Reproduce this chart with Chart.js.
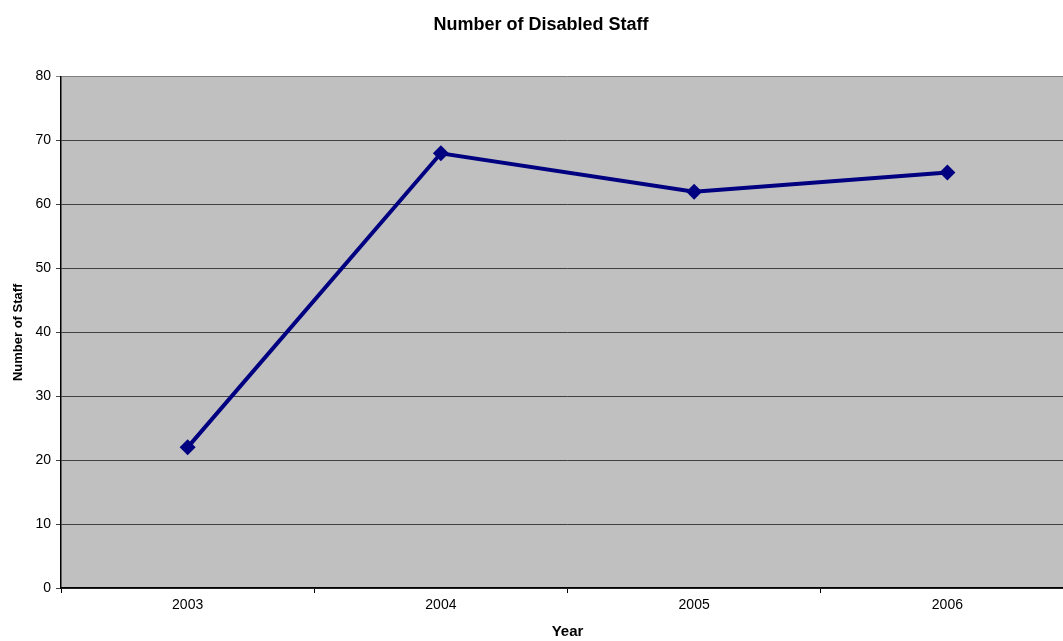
<!DOCTYPE html>
<html>
<head>
<meta charset="utf-8">
<script src="https://cdn.jsdelivr.net/npm/chart.js@4/dist/chart.umd.min.js"></script>
<style>
  html, body { margin: 0; padding: 0; overflow: hidden; background: #fff; }
  canvas { display: block; }
</style>
</head>
<body>
<canvas id="c" width="1082" height="641" style="width:1082px;height:641px"></canvas>
<script>
const years = ['2003', '2004', '2005', '2006'];
const staffCounts = [22, 68, 62, 65];
const yTicks = { min: 0, max: 80, step: 10 };
const chartTitle = 'Number of Disabled Staff';
const xTitle = 'Year';
const yTitle = 'Number of Staff';

const FONT = "'Liberation Sans', Arial, sans-serif";

const plotBg = {
  id: 'plotBg',
  beforeDraw(chart) {
    const { ctx, chartArea: a } = chart;
    ctx.save();
    ctx.fillStyle = '#ffffff';
    ctx.fillRect(0, 0, chart.width, chart.height);
    ctx.fillStyle = '#C0C0C0';
    ctx.fillRect(a.left, a.top, a.right - a.left, a.bottom - a.top);
    ctx.restore();
  }
};

new Chart(document.getElementById('c'), {
  type: 'line',
  data: {
    labels: years,
    datasets: [{
      data: staffCounts,
      borderColor: '#000080',
      backgroundColor: '#000080',
      borderWidth: 4,
      pointStyle: 'rectRot',
      pointRadius: 8,
      pointHoverRadius: 8,
      pointBorderWidth: 0,
      tension: 0,
      clip: false
    }]
  },
  options: {
    responsive: false,
    maintainAspectRatio: false,
    devicePixelRatio: 1,
    animation: false,
    events: [],
    layout: { padding: 0 },
    plugins: {
      legend: { display: false },
      tooltip: { enabled: false },
      title: {
        display: true,
        text: chartTitle,
        color: '#000',
        font: { family: FONT, size: 18, weight: 'bold' },
        padding: { top: 14, bottom: 41 }
      }
    },
    scales: {
      x: {
        type: 'category',
        offset: true,
        afterFit(s) { s.height = 53; },
        border: { display: true, color: '#000', width: 1.5 },
        grid: { display: true, offset: true, drawOnChartArea: false, drawTicks: true, tickLength: 5, color: '#000' },
        ticks: { color: '#000', font: { family: FONT, size: 14 }, padding: 4, maxRotation: 0 },
        title: { display: true, text: xTitle, color: '#000', font: { family: FONT, size: 15, weight: 'bold' }, padding: { top: 0, bottom: 0 } }
      },
      y: {
        min: yTicks.min,
        max: yTicks.max,
        afterFit(s) { s.width = 61; },
        border: { display: true, color: '#000', width: 1.5 },
        grid: {
          color: (c) => (c.tick && c.tick.value === yTicks.max) ? '#808080' : '#404040',
          lineWidth: 1,
          drawTicks: true,
          tickLength: 5
        },
        ticks: { stepSize: yTicks.step, color: '#000', font: { family: FONT, size: 14 }, padding: 5 },
        title: { display: true, text: yTitle, color: '#000', font: { family: FONT, size: 13, weight: 'bold' }, padding: { top: 11, bottom: 0 } }
      }
    }
  },
  plugins: [plotBg]
});
</script>
</body>
</html>
